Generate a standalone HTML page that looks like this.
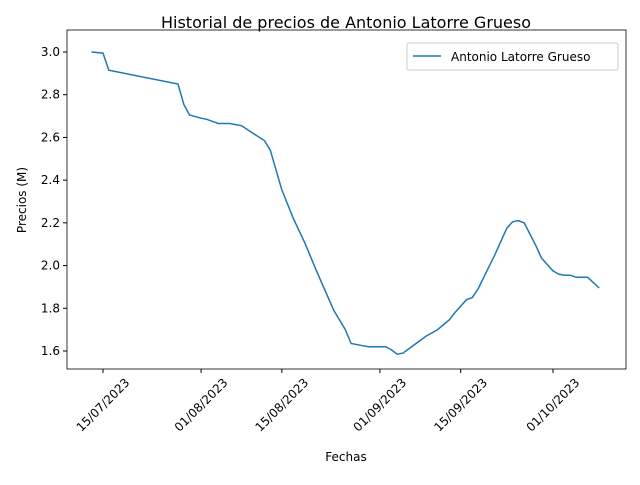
<!DOCTYPE html>
<html><head><meta charset="utf-8"><style>
body{margin:0;background:#fff;font-family:"Liberation Sans","DejaVu Sans",sans-serif;}
svg text{font-family:"DejaVu Sans","Liberation Sans",sans-serif;fill:#000;}
</style></head><body>
<svg id="chart" width="640" height="480" xmlns="http://www.w3.org/2000/svg">
<text x="346" y="28" font-size="16" text-anchor="middle">Historial de precios de Antonio Latorre Grueso</text>
<rect x="67" y="30" width="559" height="339" fill="none" stroke="#000" stroke-width="0.8"/>
<g id="yticks"></g><g id="xticks"></g>
<polyline id="line" fill="none" stroke="#1f77b4" stroke-width="1.5"/>
<text transform="translate(26,200) rotate(-90)" font-size="12" text-anchor="middle">Precios (M)</text>
<text x="346" y="461" font-size="12" text-anchor="middle">Fechas</text>
<g>
<rect x="407" y="43" width="211" height="27" fill="#fff" stroke="#ccc" rx="2"/>
<line x1="413" y1="56" x2="441" y2="56" stroke="#1f77b4" stroke-width="1.5"/>
<text x="451" y="61" font-size="12">Antonio Latorre Grueso</text>
</g>
</svg>
<script>
// days offset from 15/07/2023
const days=[-2,0,1,13,14,15,17,18,19,20,22,23,24,26,28,29,31,33,35,37,40,42,43,45,46,48,49,50,51,52,54,56,58,60,61,63,64,65,67,68,70,71,72,73,75,76,78,79,80,81,82,84,86];
const prices=[3.0,2.995,2.915,2.85,2.755,2.705,2.69,2.685,2.675,2.665,2.665,2.66,2.655,2.62,2.585,2.54,2.355,2.22,2.105,1.975,1.79,1.70,1.635,1.625,1.62,1.62,1.62,1.605,1.585,1.59,1.63,1.67,1.70,1.745,1.78,1.84,1.85,1.89,2.0,2.055,2.175,2.205,2.21,2.20,2.095,2.035,1.975,1.96,1.955,1.955,1.945,1.945,1.895];
const yTicks=[1.6,1.8,2.0,2.2,2.4,2.6,2.8,3.0];
const xTickDays=[0,17,31,48,62,78];
const xTickLabels=["15/07/2023","01/08/2023","15/08/2023","01/09/2023","15/09/2023","01/10/2023"];
const NS="http://www.w3.org/2000/svg";
const xs=d=>103+d*(553-103)/78;
const ys=v=>52+(3.0-v)*(351-52)/1.4;
const yg=document.getElementById('yticks');
yTicks.forEach(v=>{
  const y=ys(v);
  const l=document.createElementNS(NS,'line');
  l.setAttribute('x1',63);l.setAttribute('x2',67);l.setAttribute('y1',y);l.setAttribute('y2',y);l.setAttribute('stroke','#000');
  
  
  yg.appendChild(l);
  const t=document.createElementNS(NS,'text');
  t.setAttribute('x',60);t.setAttribute('y',y+4);t.setAttribute('font-size','12');t.setAttribute('text-anchor','end');
  t.textContent=v.toFixed(1);
  
  
  yg.appendChild(t);
});
const xg=document.getElementById('xticks');
xTickDays.forEach((d,i)=>{
  const x=xs(d);
  const l=document.createElementNS(NS,'line');
  l.setAttribute('x1',x);l.setAttribute('x2',x);l.setAttribute('y1',369);l.setAttribute('y2',373);l.setAttribute('stroke','#000');
  
  
  xg.appendChild(l);
  const t=document.createElementNS(NS,'text');
  t.setAttribute('font-size','12');t.setAttribute('text-anchor','middle');
  t.setAttribute('transform','translate('+x+',405) rotate(-45)');
  t.setAttribute('y','4');
  t.textContent=xTickLabels[i];
  
  
  xg.appendChild(t);
});
document.getElementById('line').setAttribute('points',days.map((d,i)=>xs(d).toFixed(1)+','+ys(prices[i]).toFixed(1)).join(' '));
</script>
</body></html>
